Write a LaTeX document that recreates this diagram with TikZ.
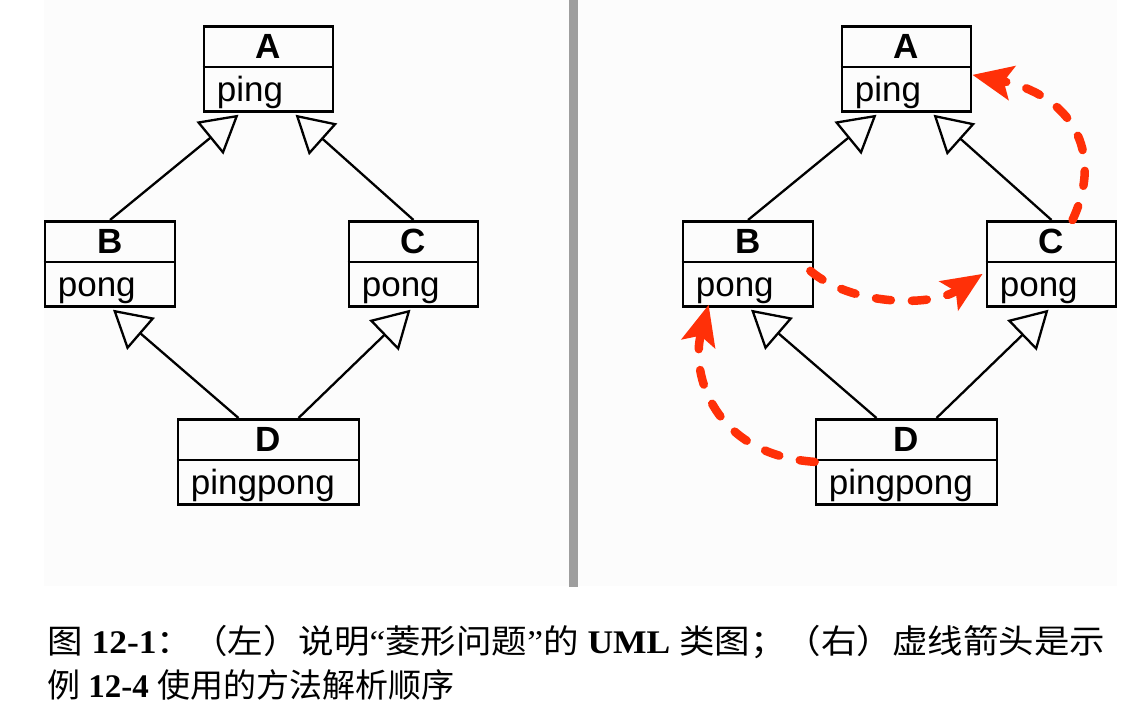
\documentclass[tikz,border=0pt]{standalone}
\usepackage{fontspec}
\usepackage{graphicx}
\setmainfont{Liberation Serif}
\newfontfamily\cjk{Noto Sans CJK SC}
\newfontfamily\hv{Liberation Sans}
\usetikzlibrary{arrows.meta,calc}
\definecolor{mrored}{RGB}{255,48,8}
\definecolor{sepgray}{RGB}{158,158,158}
\definecolor{panelbg}{RGB}{252,252,252}
\newcommand\umlclass[6]{%
  \node[cls, minimum width=#4pt, anchor=north] (#1) at (#2,#3) {};
  \draw[divline] ($(#1.north west)+(0,42)$) -- ($(#1.north east)+(0,42)$);
  \node[ttl] (#1t) at ($(#1.north)+(0,21)$) {#5};
  \node[bdy, anchor=base west] (#1b) at ($(#1.north west)+(14,76)$) {#6};
}
\begin{document}
\begin{tikzpicture}[x=1pt,y=-1pt,
  cls/.style={draw, line width=2.7pt, minimum height=85pt, inner sep=0pt},
  divline/.style={line width=2.7pt},
  ttl/.style={font=\hv\bfseries\fontsize{35}{40}\selectfont, inner sep=0pt},
  bdy/.style={font=\hv\fontsize{35}{40}\selectfont, inner sep=0pt},
  gen/.style={line width=2.3pt, -{Triangle[open, length=37pt, width=42pt, line width=2.3pt]}},
  mro/.style={draw=mrored, line width=8.5pt, line cap=round, dash pattern=on 15pt off 21pt,
              -{Stealth[length=40pt, width=34pt, inset=8pt]}},
  captext/.style={anchor=base west, inner sep=0pt, font=\fontsize{33}{40}\selectfont},
]
\useasboundingbox (0,0) rectangle (1139,702);
\fill[white] (0,0) rectangle (1139,702);
\fill[panelbg] (44,0) rectangle (1117,586);
\draw[sepgray, line width=9pt] (573.5,0) -- (573.5,587);

% left diagram
\umlclass{A}{268.5}{25}{129}{A}{ping}
\umlclass{B}{110}{220}{130}{B}{pong}
\umlclass{C}{413.5}{220}{129}{C}{pong}
\umlclass{D}{268.5}{418}{181}{D}{pingpong}
\draw[gen] (B.north) -- ($(A.south)+(-30,2)$);
\draw[gen] (C.north) -- ($(A.south)+(27,2)$);
\draw[gen] ($(D.north)+(-30,0)$) -- ($(B.south)+(3,2)$);
\draw[gen] ($(D.north)+(30,0)$) -- ($(C.south)+(-3,2)$);

% right diagram
\umlclass{A2}{906.5}{25}{129}{A}{ping}
\umlclass{B2}{748}{220}{130}{B}{pong}
\umlclass{C2}{1051.5}{220}{129}{C}{pong}
\umlclass{D2}{906.5}{418}{181}{D}{pingpong}
\draw[gen] (B2.north) -- ($(A2.south)+(-30,2)$);
\draw[gen] (C2.north) -- ($(A2.south)+(27,2)$);
\draw[gen] ($(D2.north)+(-30,0)$) -- ($(B2.south)+(3,2)$);
\draw[gen] ($(D2.north)+(30,0)$) -- ($(C2.south)+(-3,2)$);

% method resolution order
\draw[mro] (D2.west) .. controls (715,455) and (690,375) .. ($(B2.south west)+(27,-3)$);
\draw[mro] ($(B2.east)+(-4,7)$) .. controls (850,305) and (930,308) .. ($(C2.west)+(-3,10)$);
\draw[mro] ($(C2.north)+(21,0)$) .. controls (1105,150) and (1070,95) .. ($(A2.east)+(0,6)$);

% caption
\node[captext] (cap1) at (47,653) {\resizebox{1058pt}{\height}{{\cjk 图} \textbf{12-1}{\cjk ：（左）说明}“{\cjk 菱形问题}”{\cjk 的} \textbf{UML} {\cjk 类图；（右）虚线箭头是示}}};
\node[captext] (cap2) at (47,697) {{\cjk 例} \textbf{12-4} {\cjk 使用的方法解析顺序}};
\end{tikzpicture}
\end{document}
